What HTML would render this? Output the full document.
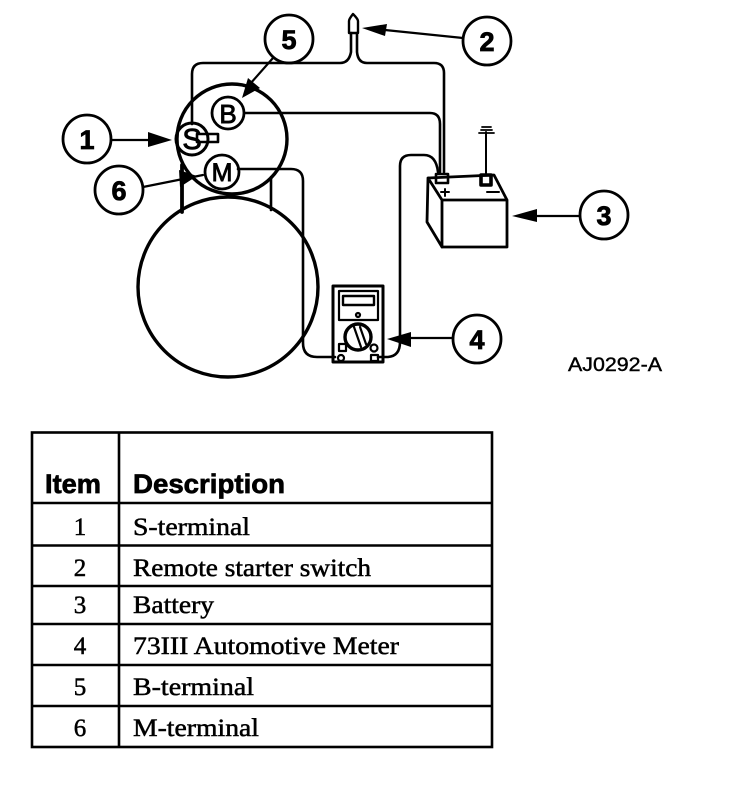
<!DOCTYPE html>
<html><head><meta charset="utf-8"><style>
html,body{margin:0;padding:0;background:#fff}
svg{display:block}
.l{font-family:"Liberation Sans",sans-serif;font-weight:bold;fill:#000;stroke:#000;stroke-width:.8}
.s{font-family:"Liberation Serif",serif;font-size:25px;fill:#000;stroke:#000;stroke-width:.5}
.h{font-family:"Liberation Sans",sans-serif;font-weight:bold;font-size:27px;fill:#000;stroke:#000;stroke-width:.7}
</style></head><body>
<svg width="736" height="810" viewBox="0 0 736 810" xmlns="http://www.w3.org/2000/svg">
<rect width="736" height="810" fill="#fff"/>
<g fill="none" stroke="#000" stroke-width="2.6" stroke-linecap="round" stroke-linejoin="round">
<!-- wires -->
<path d="M192 124V74Q192 63 203 63H340Q349 63 351 52V33"/>
<path d="M357 33V52Q358 63 367 63H434Q444 63 444 73V172"/>
<path d="M245 113H430Q440 113 440 124V172"/>
<path d="M438 172Q436 155 424 155H411Q400 155 400 166V342Q400 356 388 357H378"/>
<path d="M238 169H291Q303 169 303 181V343Q303 357 317 357H335"/>
<path d="M271 177V210"/>
<!-- solenoid and motor -->
<circle cx="232" cy="139" r="55" stroke-width="3.4"/>
<circle cx="228" cy="287" r="90" stroke-width="3.4"/>
<path d="M182 165V212" stroke-width="3.8"/>
<circle cx="192" cy="139" r="16" stroke-width="3"/>
<circle cx="228" cy="113" r="16" stroke-width="2.8"/>
<circle cx="222" cy="172" r="17" stroke-width="2.8"/>
<rect x="197" y="134" width="21" height="8" stroke-width="2.6"/>
<!-- callouts -->
<circle cx="87" cy="139" r="24" stroke-width="2.8"/>
<circle cx="119" cy="190" r="24" stroke-width="2.8"/>
<circle cx="289" cy="39" r="24" stroke-width="2.8"/>
<circle cx="487" cy="41" r="24" stroke-width="2.8"/>
<circle cx="604" cy="215" r="24" stroke-width="2.8"/>
<circle cx="477" cy="339" r="24" stroke-width="2.8"/>
<path d="M112 140H150M143 187L203 175M273 58L250 84M463 38L385 30M580 216H530M453 338H410" stroke-width="2.2"/>
<!-- switch -->
<path d="M349 33V21Q349 19 353 14Q358 19 358 21V33H349" stroke-width="2.4"/>
<!-- battery -->
<path d="M442 200H507V247H442ZM428 178L442 200M428 178L494 175L507 200M428 178L427 222L442 247" stroke-width="2.8"/>
<path d="M486 132V175" stroke-width="2"/>
<path d="M482 127H491M481 130H492M479 133H494" stroke-width="1.8"/>
<rect x="436" y="174" width="12" height="9" stroke-width="2.6"/>
<rect x="481" y="175" width="10" height="10" stroke-width="3.6"/>
<path d="M445 189V196M441 192H449M487 192H499" stroke-width="2"/>
<!-- meter -->
<rect x="333" y="286" width="50" height="76" stroke-width="3"/>
<rect x="343" y="296" width="31" height="9" stroke-width="2.4"/>
<path d="M339 291H378V320H339Z" stroke-width="2.2"/>
<circle cx="358" cy="315" r="2" stroke-width="2.2"/>
<circle cx="358" cy="337" r="13" stroke-width="3.4"/>
<path d="M354 327L361 347M360 327L366 344" stroke-width="2.2"/>
<rect x="339" y="344" width="7" height="7" stroke-width="2.2"/>
<circle cx="374" cy="348" r="3.5" stroke-width="2.2"/>
<circle cx="341" cy="358" r="3" stroke-width="2.2"/>
<rect x="371" y="355" width="7" height="6" stroke-width="2.2"/>
</g>
<g fill="#000">
<polygon points="172,140 148,132 148,147"/>
<polygon points="197,176 179,170 180,187"/>
<polygon points="242,98 248,78 260,88"/>
<polygon points="362,28 387,24 385,36"/>
<polygon points="512,216 537,209 537,222"/>
<polygon points="387,339 411,332 411,347"/>
</g>
<g class="l" font-size="27" text-anchor="middle">
<text x="87" y="149">1</text>
<text x="119" y="200">6</text>
<text x="289" y="49">5</text>
<text x="487" y="51">2</text>
<text x="604" y="225">3</text>
<text x="477" y="349">4</text>
</g>
<g font-family="'Liberation Sans',sans-serif" text-anchor="middle" fill="#000" stroke="#000" stroke-width=".9">
<text x="192" y="149" font-size="29">S</text>
<text x="228" y="123" font-size="26">B</text>
<text x="222" y="181" font-size="25">M</text>
</g>
<text x="568" y="371" font-family="'Liberation Sans',sans-serif" font-size="19" fill="#000" stroke="#000" stroke-width=".4" textLength="94" lengthAdjust="spacingAndGlyphs">AJ0292-A</text>
<!-- table -->
<g stroke="#000" stroke-width="2.6" fill="none">
<rect x="32" y="432.5" width="460" height="314.5"/>
<path d="M119 432V747M32 503H492M32 545.500H492M32 586H492M32 624H492M32 665H492M32 706H492"/>
</g>
<text class="h" x="45" y="493" textLength="56" lengthAdjust="spacingAndGlyphs">Item</text>
<text class="h" x="133" y="493" textLength="152" lengthAdjust="spacingAndGlyphs">Description</text>
<g class="s" text-anchor="middle">
<text x="80" y="535">1</text>
<text x="80" y="576">2</text>
<text x="80" y="613">3</text>
<text x="80" y="654">4</text>
<text x="80" y="695">5</text>
<text x="80" y="736">6</text>
</g>
<g class="s">
<text x="133" y="535" textLength="117" lengthAdjust="spacingAndGlyphs">S-terminal</text>
<text x="133" y="576" textLength="238" lengthAdjust="spacingAndGlyphs">Remote starter switch</text>
<text x="133" y="613" textLength="81" lengthAdjust="spacingAndGlyphs">Battery</text>
<text x="133" y="654" textLength="266" lengthAdjust="spacingAndGlyphs">73III Automotive Meter</text>
<text x="133" y="695" textLength="121" lengthAdjust="spacingAndGlyphs">B-terminal</text>
<text x="133" y="736" textLength="126" lengthAdjust="spacingAndGlyphs">M-terminal</text>
</g>
</svg>
</body></html>
